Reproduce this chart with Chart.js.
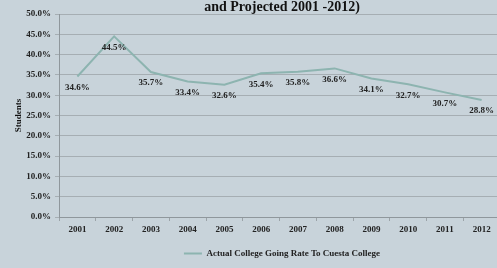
<!DOCTYPE html>
<html>
<head>
<meta charset="utf-8">
<script src="https://cdn.jsdelivr.net/npm/chart.js@4.4.0/dist/chart.umd.min.js"></script>
<style>
  html, body { margin: 0; padding: 0; background: #c8d3da; overflow: hidden; }
  #wrap { position: relative; width: 551px; height: 282px; margin-top: -14px; }
</style>
</head>
<body>
<div id="wrap"><canvas id="chart"></canvas></div>
<script>
const years = ["2001", "2002", "2003", "2004", "2005", "2006", "2007", "2008", "2009", "2010", "2011", "2012"];
const goingRate = [34.6, 44.5, 35.7, 33.4, 32.6, 35.4, 35.8, 36.6, 34.1, 32.7, 30.7, 28.8];
const titleLines = ["Cuesta College Going Rate (Actual Going Rate", "and Projected 2001 -2012)"];
const seriesName = "Actual College Going Rate To Cuesta College";

const FONT = "'Liberation Serif', 'DejaVu Serif', serif";
const INK = "#222";

// подписи значений под точками
const valueLabels = {
  id: "valueLabels",
  afterDatasetsDraw(chart) {
    const ctx = chart.ctx;
    const meta = chart.getDatasetMeta(0);
    ctx.save();
    ctx.font = "bold 9px " + FONT;
    ctx.fillStyle = INK;
    ctx.textAlign = "center";
    ctx.textBaseline = "middle";
    meta.data.forEach((pt, i) => {
      ctx.fillText(goingRate[i].toFixed(1) + "%", pt.x, pt.y + 11);
    });
    ctx.restore();
  }
};

new Chart(document.getElementById("chart"), {
  type: "line",
  data: {
    labels: years,
    datasets: [{
      label: seriesName,
      data: goingRate,
      borderColor: "#8db4b0",
      backgroundColor: "#8db4b0",
      borderWidth: 2,
      pointRadius: 0,
      tension: 0
    }]
  },
  options: {
    responsive: true,
    maintainAspectRatio: false,
    animation: false,
    layout: { padding: { left: 13, right: 0, top: 0, bottom: 0 } },
    plugins: {
      title: {
        display: true,
        text: titleLines,
        color: "#111",
        font: { family: FONT, size: 14, weight: "bold", lineHeight: 1.0 },
        padding: { top: 0, bottom: 0 }
      },
      legend: {
        position: "bottom",
        labels: {
          color: INK,
          font: { family: FONT, size: 9, weight: "bold" },
          usePointStyle: true,
          pointStyle: "line",
          pointStyleWidth: 18,
          boxHeight: 2,
          padding: 8
        }
      },
      tooltip: { enabled: false }
    },
    scales: {
      x: {
        offset: true,
        grid: { display: true, drawOnChartArea: false, drawTicks: true, tickLength: 4, offset: true, color: "#9ba3a8" },
        border: { color: "#8f979c" },
        ticks: { color: INK, font: { family: FONT, size: 9, weight: "bold" }, padding: 3, maxRotation: 0 },
        afterFit(scale) { scale.height = 24; }
      },
      y: {
        min: 0,
        max: 50,
        grid: { color: "#a6aeb3", tickLength: 4 },
        border: { color: "#8f979c" },
        ticks: {
          stepSize: 5,
          color: INK,
          font: { family: FONT, size: 9, weight: "bold" },
          padding: 4,
          callback: v => v.toFixed(1) + "%"
        },
        title: {
          display: true,
          text: "Students",
          color: "#111",
          font: { family: FONT, size: 9, weight: "bold" },
          padding: { top: 0, bottom: 0 }
        },
        afterFit(scale) { scale.width = 46; }
      },
      // пустая ось справа, чтобы заголовок и легенда центрировались как в оригинале
      yRight: {
        position: "right",
        display: true,
        min: 0,
        max: 50,
        grid: { drawOnChartArea: false, drawTicks: false },
        border: { display: false },
        ticks: { display: false },
        afterFit(scale) { scale.width = 51; }
      }
    }
  },
  plugins: [valueLabels]
});
</script>
</body>
</html>
